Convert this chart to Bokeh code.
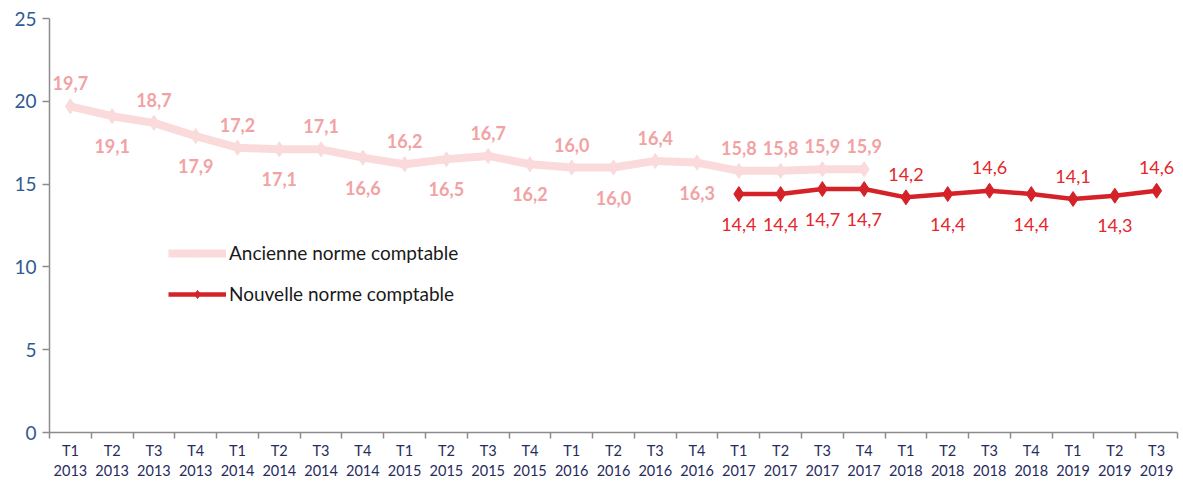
from bokeh.plotting import figure
from bokeh.models import (FixedTicker, ColumnDataSource, Legend, LegendItem, Range1d)
from bokeh.core.properties import value
from bokeh.embed import file_html
from bokeh.resources import INLINE

quarters = ["T1", "T2", "T3", "T4"]
years = [2013, 2014, 2015, 2016, 2017, 2018, 2019]
categories = [f"{q}\n{y}" for y in years for q in quarters][:27]

old_values = [19.7, 19.1, 18.7, 17.9, 17.2, 17.1, 17.1, 16.6, 16.2, 16.5, 16.7, 16.2,
              16.0, 16.0, 16.4, 16.3, 15.8, 15.8, 15.9, 15.9]
old_pos = ["a", "b", "a", "b", "a", "b", "a", "b", "a", "b", "a", "b",
           "a", "b", "a", "b", "a", "a", "a", "a"]
new_values = [14.4, 14.4, 14.7, 14.7, 14.2, 14.4, 14.6, 14.4, 14.1, 14.3, 14.6]
new_pos = ["b", "b", "b", "b", "a", "b", "a", "b", "a", "b", "a"]
new_start = 16

FONT = "Lato"
OLD_LINE = "#FBDADB"
OLD_TXT = "#F2A2A3"
NEW_LINE = "#D42228"
NEW_TXT = "#E5262C"

def fmt(v):
    return f"{v:.1f}".replace(".", ",")

def offs(pos):
    return [-23 if p == "a" else 30 for p in pos]

p = figure(frame_width=1128, frame_height=414, output_backend="svg", toolbar_location=None,
           x_range=Range1d(-0.5, 26.5), y_range=Range1d(0, 25),
           min_border_left=49, min_border_right=5, min_border_top=18, min_border_bottom=40)
p.outline_line_color = None
p.xgrid.visible = False
p.ygrid.visible = False
p.background_fill_color = "white"
p.border_fill_color = "white"

old_x = list(range(len(old_values)))
new_x = [new_start + i for i in range(len(new_values))]

l1 = p.line(old_x, old_values, line_color=OLD_LINE, line_width=8)
s1 = p.scatter(old_x, old_values, marker="diamond", size=15, fill_color=OLD_LINE, line_color=OLD_LINE)
l2 = p.line(new_x, new_values, line_color=NEW_LINE, line_width=4.5)
s2 = p.scatter(new_x, new_values, marker="diamond", size=15, fill_color=NEW_LINE, line_color=NEW_LINE)

src_old = ColumnDataSource(dict(x=old_x, y=old_values, t=[fmt(v) for v in old_values], o=offs(old_pos)))
p.text("x", "y", text="t", y_offset="o", source=src_old, text_align="center", text_baseline="middle",
       text_font=value(FONT), text_font_size="18px", text_font_style="bold", text_color=OLD_TXT)
src_new = ColumnDataSource(dict(x=new_x, y=new_values, t=[fmt(v) for v in new_values], o=offs(new_pos)))
p.text("x", "y", text="t", y_offset="o", source=src_new, text_align="center", text_baseline="middle",
       text_font=value(FONT), text_font_size="18px", text_color=NEW_TXT)

# y axis
p.yaxis.ticker = FixedTicker(ticks=[0, 5, 10, 15, 20, 25])
p.yaxis.major_tick_out = 7
p.yaxis.major_tick_in = 0
p.yaxis.minor_tick_line_color = None
p.yaxis.axis_line_color = "#8C8C8C"
p.yaxis.axis_line_width = 1.5
p.yaxis.major_tick_line_color = "#8C8C8C"
p.yaxis.major_tick_line_width = 1.5
p.yaxis.major_label_text_font = FONT
p.yaxis.major_label_text_font_size = "19px"
p.yaxis.major_label_text_color = "#2F5A92"
p.yaxis.major_label_standoff = 6

# x axis
p.xaxis.ticker = FixedTicker(ticks=list(range(27)), minor_ticks=[i - 0.5 for i in range(28)])
p.xaxis.major_label_overrides = {i: c for i, c in enumerate(categories)}
p.xaxis.major_tick_out = 0
p.xaxis.major_tick_in = 0
p.xaxis.minor_tick_out = 6
p.xaxis.minor_tick_in = 0
p.xaxis.minor_tick_line_color = "#8C8C8C"
p.xaxis.minor_tick_line_width = 1.5
p.xaxis.axis_line_color = "#8C8C8C"
p.xaxis.axis_line_width = 1.5
p.xaxis.major_label_text_font = FONT
p.xaxis.major_label_text_font_size = "14.5px"
p.xaxis.major_label_text_color = "#262B5E"
p.xaxis.major_label_standoff = 3

legend = Legend(items=[LegendItem(label="Ancienne norme comptable", renderers=[l1, s1]),
                       LegendItem(label="Nouvelle norme comptable", renderers=[l2, s2])],
                location=(119, 127), padding=0, margin=0, spacing=18,
                glyph_width=58, glyph_height=20, label_standoff=3,
                label_text_font=FONT, label_text_font_size="19px", label_text_color="#1A1A1A",
                border_line_color=None, background_fill_alpha=0)
p.add_layout(legend, "center")

open("out.html", "w").write(file_html(p, INLINE))
